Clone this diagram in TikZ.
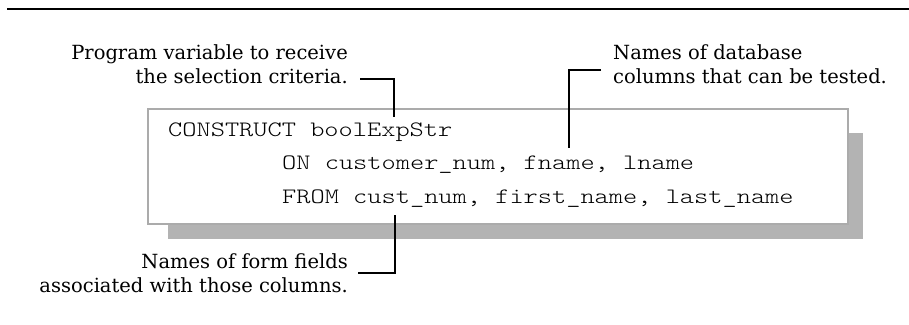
\documentclass[tikz,border=0pt]{standalone}
\usepackage{fontspec}
\setmainfont{DejaVu Serif}
\newfontfamily\codefont[FakeStretch=1.23]{Latin Modern Mono Light}
\definecolor{shadowgray}{HTML}{B3B3B3}
\definecolor{framegray}{HTML}{ABABAB}
\begin{document}
\begin{tikzpicture}[x=1pt,y=-1pt,
  note/.style={inner sep=0pt, font=\fontsize{19.5}{24}\selectfont},
  code/.style={inner sep=0pt, anchor=base west, font=\codefont\fontsize{22}{30}\selectfont},
  leader/.style={draw=black, line width=1.2pt},
  codebox/.style={draw=framegray, fill=white, line width=1.3pt},
  boxshadow/.style={fill=shadowgray}]
  \useasboundingbox (0,0) rectangle (909,324);

  % rule across the top of the figure
  \draw[line width=1.4pt] (7,9) -- (909,9);

  % code panel with its drop shadow
  \fill[boxshadow] (168,133) rectangle (863,239);
  \draw[codebox] (148,109) rectangle (848,224);

  \node[code] (l1) at (168,136) {CONSTRUCT boolExpStr};
  \node[code] (l2) at (282,169) {ON customer\_num, fname, lname};
  \node[code] (l3) at (282,203) {FROM cust\_num, first\_name, last\_name};

  % explanatory notes
  \node[note, anchor=base east] (var) at (348,59)
    {\begin{tabular}[t]{@{}r@{}}Program variable to receive\\ the selection criteria.\end{tabular}};
  \node[note, anchor=base west] (cols) at (613,59)
    {\begin{tabular}[t]{@{}l@{}}Names of database\\ columns that can be tested.\end{tabular}};
  \node[note, anchor=base east] (fields) at (348,268)
    {\begin{tabular}[t]{@{}r@{}}Names of form fields\\ associated with those columns.\end{tabular}};

  % leader lines
  \coordinate (varend) at (360,79);
  \coordinate (vartip) at (394,117);
  \coordinate (colend) at (601,70);
  \coordinate (coltip) at (569,148);
  \coordinate (fldend) at (358,273);
  \coordinate (fldtip) at (395,215);
  \draw[leader] (varend) -| (vartip);
  \draw[leader] (colend) -| (coltip);
  \draw[leader] (fldend) -| (fldtip);
\end{tikzpicture}
\end{document}
